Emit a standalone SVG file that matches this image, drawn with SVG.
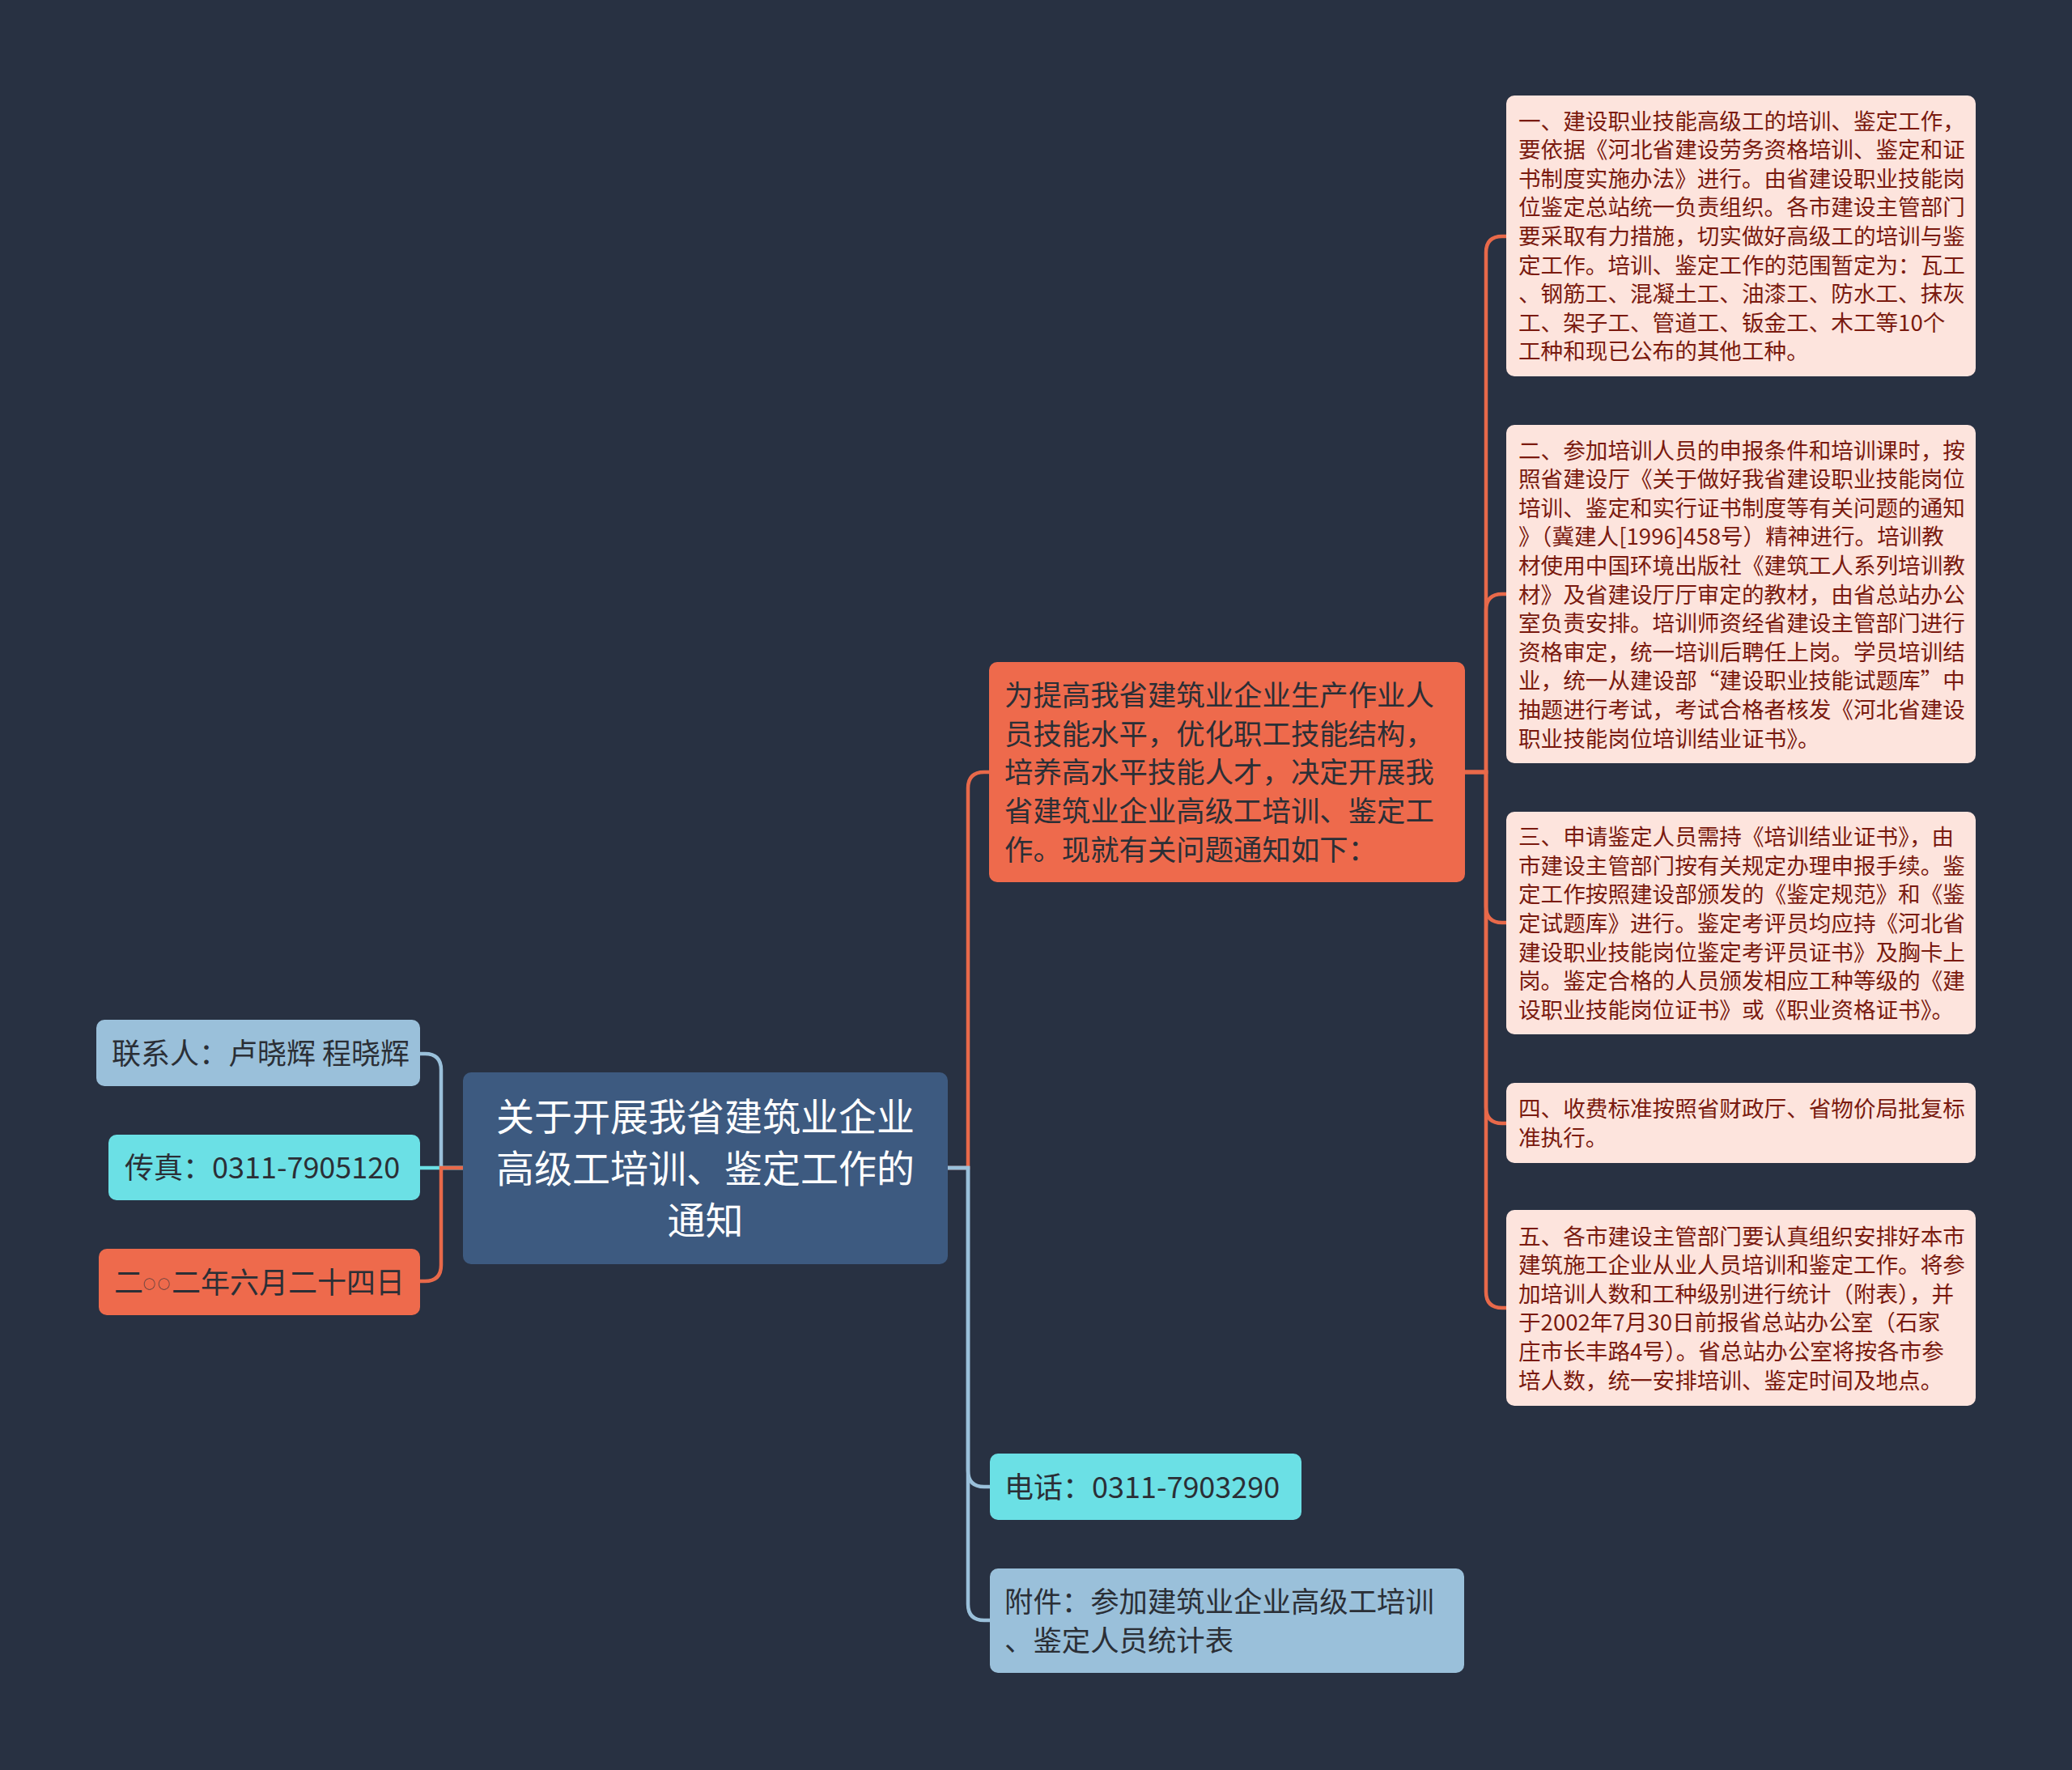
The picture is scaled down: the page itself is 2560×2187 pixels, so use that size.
<svg xmlns="http://www.w3.org/2000/svg" width="2560" height="2187" viewBox="0 0 2560 2187">
<style>
.t{font-family:"Noto Sans CJK SC","Noto Sans",sans-serif;}
.lb{fill:#9AC0DA;}
.cy{fill:#6BE0E5;}
.co{fill:#EE6A4C;}
.pk{fill:#FDE4DD;}
.ct{fill:#3D5A80;}
.dk{fill:#2B2F36;font-size:36px;}
.wt{fill:#FFFFFF;font-size:47px;}
.rd{fill:#7A1A0F;font-size:27.6px;}
.cn{fill:none;stroke-width:4.5;}
.clb{stroke:#9AC0DA;}
.ccy{stroke:#6BE0E5;}
.cco{stroke:#E8694A;}
</style>
<rect x="0" y="0" width="2560" height="2187" fill="#283142"/>
<g id="connectors">
<path class="cn clb" d="M572 1443 H545 V1322 Q545 1302 525 1302 H519"/>
<path class="cn ccy" d="M572 1443 H519"/>
<path class="cn cco" d="M572 1443 H545 V1563 Q545 1583 525 1583 H519"/>
<path class="cn cco" d="M1171 1443 H1196 V974 Q1196 954 1216 954 H1222"/>
<path class="cn clb" d="M1171 1443 H1196 V1817 Q1196 1837 1216 1837 H1223"/>
<path class="cn clb" d="M1171 1443 H1196 V1982 Q1196 2002 1216 2002 H1223"/>
<path class="cn cco" d="M1810 954 H1836 V312 Q1836 292 1856 292 H1861"/>
<path class="cn cco" d="M1810 954 H1836 V754 Q1836 734 1856 734 H1861"/>
<path class="cn cco" d="M1810 954 H1836 V1120 Q1836 1140 1856 1140 H1861"/>
<path class="cn cco" d="M1810 954 H1836 V1368 Q1836 1388 1856 1388 H1861"/>
<path class="cn cco" d="M1810 954 H1836 V1596 Q1836 1616 1856 1616 H1861"/>
</g>
<g id="root">
<rect class="ct" x="572" y="1325" width="599" height="237" rx="10"/>
<text class="t wt" text-anchor="middle" x="871.5" y="1397">关于开展我省建筑业企业<tspan x="871.5" dy="64">高级工培训、鉴定工作的</tspan><tspan x="871.5" dy="64">通知</tspan></text>
</g>
<g id="contact">
<rect class="lb" x="119" y="1260" width="400" height="82" rx="10"/>
<text class="t dk" x="138" y="1315">联系人：卢晓辉 程晓辉</text>
</g>
<g id="fax">
<rect class="cy" x="134" y="1402" width="385" height="81" rx="10"/>
<text class="t dk" x="154" y="1456">传真：0311-7905120</text>
</g>
<g id="date">
<rect class="co" x="122" y="1543" width="397" height="82" rx="10"/>
<text class="t dk" x="141" y="1598">二<tspan x="177" font-size="15" dy="-6">○</tspan><tspan x="195" font-size="15">○</tspan><tspan x="212" dy="6">二年六月二十四日</tspan></text>
</g>
<g id="intro">
<rect class="co" x="1222" y="818" width="588" height="272" rx="10"/>
<text class="t dk" x="1241" y="872" style="font-size:35.4px">为提高我省建筑业企业生产作业人<tspan x="1241" dy="47.7">员技能水平，优化职工技能结构，</tspan><tspan x="1241" dy="47.7">培养高水平技能人才，决定开展我</tspan><tspan x="1241" dy="47.7">省建筑业企业高级工培训、鉴定工</tspan><tspan x="1241" dy="47.7">作。现就有关问题通知如下：</tspan></text>
</g>
<g id="phone">
<rect class="cy" x="1223" y="1796" width="385" height="82" rx="10"/>
<text class="t dk" x="1241" y="1851">电话：0311-7903290</text>
</g>
<g id="attachment">
<rect class="lb" x="1223" y="1938" width="586" height="129" rx="10"/>
<text class="t dk" x="1241" y="1992" style="font-size:35.4px">附件：参加建筑业企业高级工培训<tspan x="1241" dy="48">、鉴定人员统计表</tspan></text>
</g>
<g id="item1">
<rect class="pk" x="1861" y="118" width="580" height="347" rx="10"/>
<text class="t rd" x="1876" y="159.6">一、建设职业技能高级工的培训、鉴定工作，<tspan x="1876" dy="35.6">要依据《河北省建设劳务资格培训、鉴定和证</tspan><tspan x="1876" dy="35.6">书制度实施办法》进行。由省建设职业技能岗</tspan><tspan x="1876" dy="35.6">位鉴定总站统一负责组织。各市建设主管部门</tspan><tspan x="1876" dy="35.6">要采取有力措施，切实做好高级工的培训与鉴</tspan><tspan x="1876" dy="35.6">定工作。培训、鉴定工作的范围暂定为：瓦工</tspan><tspan x="1876" dy="35.6">、钢筋工、混凝土工、油漆工、防水工、抹灰</tspan><tspan x="1876" dy="35.6">工、架子工、管道工、钣金工、木工等10个</tspan><tspan x="1876" dy="35.6">工种和现已公布的其他工种。</tspan></text>
</g>
<g id="item2">
<rect class="pk" x="1861" y="525" width="580" height="418" rx="10"/>
<text class="t rd" x="1876" y="566.5">二、参加培训人员的申报条件和培训课时，按<tspan x="1876" dy="35.6">照省建设厅《关于做好我省建设职业技能岗位</tspan><tspan x="1876" dy="35.6">培训、鉴定和实行证书制度等有关问题的通知</tspan><tspan x="1876" dy="35.6">》（冀建人[1996]458号）精神进行。培训教</tspan><tspan x="1876" dy="35.6">材使用中国环境出版社《建筑工人系列培训教</tspan><tspan x="1876" dy="35.6">材》及省建设厅厅审定的教材，由省总站办公</tspan><tspan x="1876" dy="35.6">室负责安排。培训师资经省建设主管部门进行</tspan><tspan x="1876" dy="35.6">资格审定，统一培训后聘任上岗。学员培训结</tspan><tspan x="1876" dy="35.6">业，统一从建设部“建设职业技能试题库”中</tspan><tspan x="1876" dy="35.6">抽题进行考试，考试合格者核发《河北省建设</tspan><tspan x="1876" dy="35.6">职业技能岗位培训结业证书》。</tspan></text>
</g>
<g id="item3">
<rect class="pk" x="1861" y="1003" width="580" height="275" rx="10"/>
<text class="t rd" x="1876" y="1044.2">三、申请鉴定人员需持《培训结业证书》，由<tspan x="1876" dy="35.6">市建设主管部门按有关规定办理申报手续。鉴</tspan><tspan x="1876" dy="35.6">定工作按照建设部颁发的《鉴定规范》和《鉴</tspan><tspan x="1876" dy="35.6">定试题库》进行。鉴定考评员均应持《河北省</tspan><tspan x="1876" dy="35.6">建设职业技能岗位鉴定考评员证书》及胸卡上</tspan><tspan x="1876" dy="35.6">岗。鉴定合格的人员颁发相应工种等级的《建</tspan><tspan x="1876" dy="35.6">设职业技能岗位证书》或《职业资格证书》。</tspan></text>
</g>
<g id="item4">
<rect class="pk" x="1861" y="1338" width="580" height="99" rx="10"/>
<text class="t rd" x="1876" y="1380.2">四、收费标准按照省财政厅、省物价局批复标<tspan x="1876" dy="35.6">准执行。</tspan></text>
</g>
<g id="item5">
<rect class="pk" x="1861" y="1495" width="580" height="242" rx="10"/>
<text class="t rd" x="1876" y="1537.5">五、各市建设主管部门要认真组织安排好本市<tspan x="1876" dy="35.6">建筑施工企业从业人员培训和鉴定工作。将参</tspan><tspan x="1876" dy="35.6">加培训人数和工种级别进行统计（附表），并</tspan><tspan x="1876" dy="35.6">于2002年7月30日前报省总站办公室（石家</tspan><tspan x="1876" dy="35.6">庄市长丰路4号）。省总站办公室将按各市参</tspan><tspan x="1876" dy="35.6">培人数，统一安排培训、鉴定时间及地点。</tspan></text>
</g>
</svg>
